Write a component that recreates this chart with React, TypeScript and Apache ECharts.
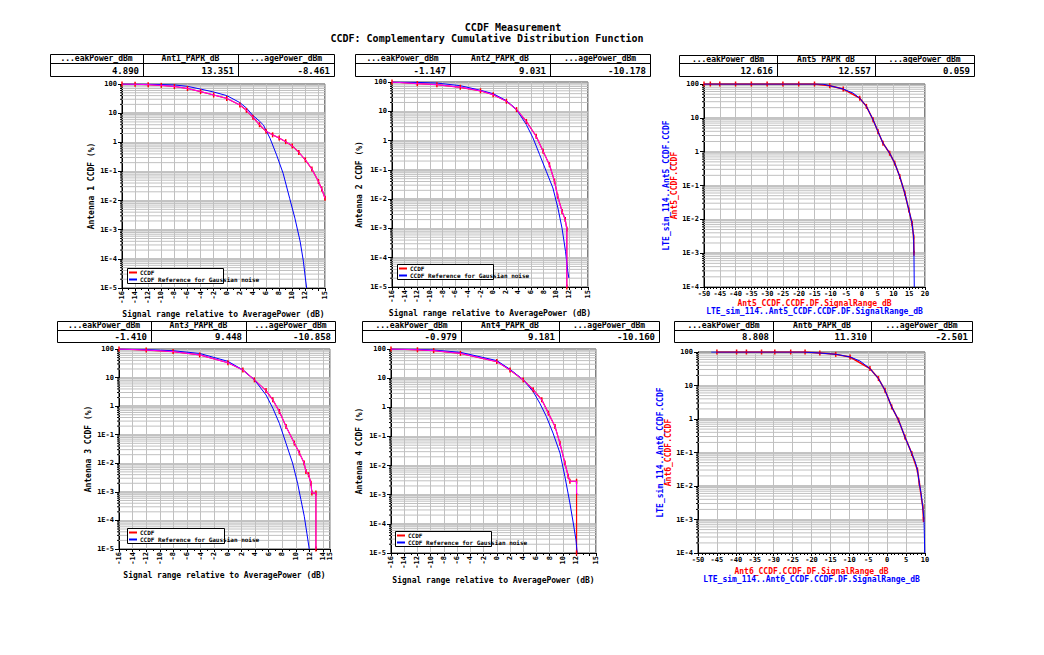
import React, { useEffect, useRef } from 'react';
import * as echarts from 'echarts';

type Pt = [number, number];

const MONO = '"DejaVu Sans Mono", monospace';
const RED = '#ff0000';
const MAGENTA = '#ff00ff';
const BLUE = '#0000ff';
const GRID_GRAY = '#c0c0c0';

const titleLines = ['CCDF Measurement', 'CCDF: Complementary Cumulative Distribution Function'];
const xNameAnt = 'Signal range relative to AveragePower (dB)';
const legendNames = ['CCDF', 'CCDF Reference for Gaussian noise'];

// ---- table texts ----
const headers1 = ['...eakPower_dBm', 'Ant1_PAPR_dB', '...agePower_dBm'];
const values1 = ['4.890', '13.351', '-8.461'];
const headers2 = ['...eakPower_dBm', 'Ant2_PAPR_dB', '...agePower_dBm'];
const values2 = ['-1.147', '9.031', '-10.178'];
const headers5 = ['...eakPower_dBm', 'Ant5_PAPR_dB', '...agePower_dBm'];
const values5 = ['12.616', '12.557', '0.059'];
const headers3 = ['...eakPower_dBm', 'Ant3_PAPR_dB', '...agePower_dBm'];
const values3 = ['-1.410', '9.448', '-10.858'];
const headers4 = ['...eakPower_dBm', 'Ant4_PAPR_dB', '...agePower_dBm'];
const values4 = ['-0.979', '9.181', '-10.160'];
const headers6 = ['...eakPower_dBm', 'Ant6_PAPR_dB', '...agePower_dBm'];
const values6 = ['8.808', '11.310', '-2.501'];

// ---- Antenna 1 ----
const ant1Ccdf: Pt[] = [[-16,100],[-14,98],[-12,95],[-10,90],[-8,82],[-6,70],[-4,55],[-2,42],[0,32],[2,19],[3,12.5],[4,7.2],[5,4.0],[6,2.4],[7,1.8],[8,1.4],[9,1.05],[10,0.75],[11,0.45],[12,0.25],[13,0.12],[14,0.045],[14.5,0.025],[15,0.012]];
const ant1Ref: Pt[] = [[-16,100],[-12,98],[-8,93],[-6,83],[-4,67],[-2,53],[0,40],[2,23],[3,15],[4,8.3],[5,5.3],[5.6,3.9],[6.6,1.38],[7.6,0.37],[8.6,0.087],[9.6,0.012],[10.4,0.0025],[11.2,0.0004],[11.7,0.000083],[12.0,0.000022],[12.2,0.00001]];

// ---- Antenna 2 ----
const ant2Ccdf: Pt[] = [[-16,100],[-12,88],[-8.9,81],[-5.2,66],[-2,50],[0,37],[2.1,22],[3.7,11.4],[5.25,4.5],[6.8,1.4],[7.9,0.43],[8.9,0.15],[9.7,0.041],[10.2,0.0126],[10.9,0.0038],[11.4,0.002],[11.65,0.00095],[11.65,0.00001]];
const ant2Ref: Pt[] = [[-16,100],[-12,97],[-8.9,92],[-5.2,75],[-2,52],[0,40],[2.1,23],[3.7,11.4],[5.25,3.5],[6.3,1.23],[7.35,0.33],[8.4,0.089],[9.45,0.024],[10.24,0.005],[10.9,0.001],[11.44,0.000166],[11.8,0.0000347],[11.97,0.0000204]];

// ---- Antenna 3 ----
const ant3Ccdf: Pt[] = [[-16,100],[-12,92],[-8.05,81],[-4.15,62],[0,33],[2.2,18.5],[3.9,8.3],[5.6,3.5],[6.6,1.66],[7.56,0.65],[8.54,0.193],[9.76,0.051],[10.5,0.023],[11.2,0.0102],[11.46,0.0052],[11.85,0.004],[12.2,0.002],[12.34,0.00091],[12.93,0.00091],[12.93,0.00001]];
const ant3Ref: Pt[] = [[-16,100],[-12,95],[-8.05,87],[-4.15,70],[0,37],[2.2,18.5],[3.9,8.3],[5.6,2.47],[6.6,0.85],[7.56,0.25],[8.54,0.05],[9.5,0.0102],[10.24,0.002],[10.73,0.00053],[11.22,0.00014],[11.6,0.000036],[11.95,0.00001]];

// ---- Antenna 4 ----
const ant4Ccdf: Pt[] = [[-16,100],[-12,94],[-9.55,88],[-5.5,71],[0,37],[2,19],[4,8.7],[5.5,4.0],[6.8,1.8],[7.8,0.63],[8.8,0.22],[9.55,0.058],[10.3,0.0122],[10.8,0.0043],[11.05,0.0029],[12.06,0.0029],[12.06,0.0011],[12.36,0.001]];
const ant4CcdfRed: Pt[] = [[-16,100],[-12,94],[-9.55,88],[-5.5,71],[0,37],[2,19],[4,8.7],[5.5,4.0],[6.8,1.8],[7.8,0.63],[8.8,0.22],[9.55,0.058],[10.3,0.0122],[10.8,0.0043],[11.05,0.0029],[12.06,0.0029],[12.06,0.00001]];
const ant4Ref: Pt[] = [[-16,100],[-12,97],[-9.55,92],[-5.5,77],[0,40],[2,20],[4,8.7],[5.5,3.45],[6.5,1.38],[7.5,0.48],[8.5,0.13],[9.55,0.0272],[10.3,0.0042],[11.05,0.00052],[11.56,0.000107],[11.96,0.000029],[12.16,0.00001]];

// ---- Ant5 (simulation vs measurement) ----
const ant5Sim: Pt[] = [[-50,100],[-14.4,100],[-12.3,99],[-10.15,89],[-5.9,71],[-2.8,54],[-0.67,38],[1.44,21.8],[3.55,8.8],[5.1,3.95],[6.7,1.78],[8.8,0.9],[10.4,0.46],[12.0,0.184],[13.6,0.059],[14.9,0.0188],[15.9,0.0076],[16.4,0.003],[16.5,0.001],[16.6,0.0001]];
const ant5Meas: Pt[] = [[-50,100],[-48,100],[-45,100],[-40,100],[-35,100],[-30,100],[-25,100],[-20,100],[-15,100],[-10.15,89],[-5.9,71],[-0.67,38],[1.44,21.8],[3.55,8.8],[5.1,3.95],[6.7,1.78],[8.8,0.9],[10.4,0.46],[12.0,0.184],[13.6,0.059],[14.9,0.0188],[15.9,0.0076],[16.4,0.003],[16.5,0.001]];

// ---- Ant6 (simulation vs measurement) ----
const ant6Sim: Pt[] = [[-46.5,100],[-22.2,100],[-17.8,93],[-13.4,85],[-9.8,71],[-7.2,54],[-4.55,32],[-2.3,16.1],[-0.57,7.2],[1.2,2.3],[3.0,0.93],[4.7,0.29],[6.5,0.094],[7.4,0.053],[8.0,0.03],[8.5,0.0121],[8.96,0.006],[9.4,0.0024],[9.75,0.00097],[9.93,0.0001]];
const ant6Meas: Pt[] = [[-45,100],[-39.8,100],[-37.2,100],[-33.2,100],[-29.7,100],[-25.5,100],[-21.7,100],[-17.8,93],[-13.6,85],[-9.8,71],[-4.55,32],[-2.3,16.1],[-0.57,7.2],[1.2,2.3],[3.0,0.93],[4.7,0.29],[6.5,0.094],[8.0,0.03],[8.5,0.0121],[9.4,0.0024],[9.6,0.001]];

interface Panel {
  kind: 'ant' | 'sim';
  grid: { left: number; top: number; width: number; height: number };
  xMin: number; xMax: number; xInterval: number;
  yMin: number; yMax: number;
  yName: string; xName: string; yGap: number; xGap: number;
  table: { x: number; y: number; cols: number[]; hh: number; h: number };
  headers: string[]; values: string[];
  red: Pt[]; magenta?: Pt[]; blue: Pt[];
  redName: string; blueName: string;
  legendBox?: { x: number; y: number; w: number; h: number };
}

const simYName = (a: string) => `{b|LTE_sim_114..${a}_CCDF.CCDF}\n{r|${a}_CCDF.CCDF}`;
const simXName = (a: string) => `{r|${a}_CCDF.CCDF.DF.SignalRange_dB}\n{b|LTE_sim_114..${a}_CCDF.CCDF.DF.SignalRange_dB}`;

const panels: Panel[] = [
  {
    kind: 'ant', grid: { left: 122, top: 84, width: 203, height: 204 },
    xMin: -16, xMax: 15, xInterval: 2, yMin: 1e-5, yMax: 100,
    yName: 'Antenna 1 CCDF (%)', xName: xNameAnt, yGap: 27, xGap: 22,
    table: { x: 50, y: 54, cols: [93, 95, 96], hh: 9, h: 22 },
    headers: headers1, values: values1,
    red: ant1Ccdf, magenta: ant1Ccdf, blue: ant1Ref,
    redName: legendNames[0], blueName: legendNames[1],
    legendBox: { x: 127, y: 268, w: 96, h: 15 },
  },
  {
    kind: 'ant', grid: { left: 392, top: 82, width: 196, height: 205 },
    xMin: -16, xMax: 15, xInterval: 2, yMin: 1e-5, yMax: 100,
    yName: 'Antenna 2 CCDF (%)', xName: xNameAnt, yGap: 29, xGap: 22,
    table: { x: 355, y: 54, cols: [95, 100, 100], hh: 9, h: 22 },
    headers: headers2, values: values2,
    red: ant2Ccdf, magenta: ant2Ccdf, blue: ant2Ref,
    redName: legendNames[0], blueName: legendNames[1],
    legendBox: { x: 397, y: 264, w: 96, h: 15 },
  },
  {
    kind: 'sim', grid: { left: 704, top: 84, width: 221, height: 203 },
    xMin: -50, xMax: 20, xInterval: 5, yMin: 1e-4, yMax: 100,
    yName: simYName('Ant5'), xName: simXName('Ant5'), yGap: 26, xGap: 12,
    table: { x: 679, y: 55, cols: [98, 98, 99], hh: 8, h: 21 },
    headers: headers5, values: values5,
    red: ant5Meas, blue: ant5Sim,
    redName: 'Ant5_CCDF.CCDF', blueName: 'LTE_sim_114..Ant5_CCDF.CCDF',
  },
  {
    kind: 'ant', grid: { left: 119, top: 349, width: 211, height: 200 },
    xMin: -16, xMax: 15, xInterval: 2, yMin: 1e-5, yMax: 100,
    yName: 'Antenna 3 CCDF (%)', xName: xNameAnt, yGap: 27, xGap: 22,
    table: { x: 57, y: 321, cols: [94, 95, 89], hh: 9, h: 21 },
    headers: headers3, values: values3,
    red: ant3Ccdf, magenta: ant3Ccdf, blue: ant3Ref,
    redName: legendNames[0], blueName: legendNames[1],
    legendBox: { x: 127, y: 528, w: 97, h: 15 },
  },
  {
    kind: 'ant', grid: { left: 391, top: 349, width: 205, height: 204 },
    xMin: -16, xMax: 15, xInterval: 2, yMin: 1e-5, yMax: 100,
    yName: 'Antenna 4 CCDF (%)', xName: xNameAnt, yGap: 28, xGap: 23,
    table: { x: 362, y: 321, cols: [99, 98, 100], hh: 9, h: 21 },
    headers: headers4, values: values4,
    red: ant4CcdfRed, magenta: ant4Ccdf, blue: ant4Ref,
    redName: legendNames[0], blueName: legendNames[1],
    legendBox: { x: 395, y: 531, w: 96, h: 15 },
  },
  {
    kind: 'sim', grid: { left: 698, top: 352, width: 227, height: 201 },
    xMin: -50, xMax: 10, xInterval: 5, yMin: 1e-4, yMax: 100,
    yName: simYName('Ant6'), xName: simXName('Ant6'), yGap: 22, xGap: 14,
    table: { x: 674, y: 321, cols: [99, 98, 101], hh: 9, h: 21 },
    headers: headers6, values: values6,
    red: ant6Meas, blue: ant6Sim,
    redName: 'Ant6_CCDF.CCDF', blueName: 'LTE_sim_114..Ant6_CCDF.CCDF',
  },
];

function minorValues(yMin: number, yMax: number): number[] {
  const out: number[] = [];
  const k0 = Math.round(Math.log10(yMin));
  const k1 = Math.round(Math.log10(yMax));
  for (let k = k0; k < k1; k++) {
    for (let m = 2; m <= 9; m++) out.push(m * Math.pow(10, k));
  }
  return out;
}

const logLabel = (v: number) => {
  if (v >= 1) return String(Math.round(v));
  return '1E' + Math.round(Math.log10(v));
};

function buildOption() {
  const grid: any[] = [];
  const xAxis: any[] = [];
  const yAxis: any[] = [];
  const series: any[] = [];
  const legend: any[] = [];
  const graphic: any[] = [];

  const nameRich = {
    b: { color: BLUE, fontSize: 8, fontFamily: MONO, fontWeight: 'bold', lineHeight: 8 },
    r: { color: RED, fontSize: 8, fontFamily: MONO, fontWeight: 'bold', lineHeight: 8 },
  };

  panels.forEach((p, i) => {
    grid.push({ ...p.grid, show: true, borderColor: '#000', borderWidth: 1, backgroundColor: 'transparent' });
    const isAnt = p.kind === 'ant';
    xAxis.push({
      type: 'value', gridIndex: i, min: p.xMin, max: p.xMax, interval: p.xInterval,
      axisLine: { onZero: false, lineStyle: { color: '#000', width: 1 } },
      axisTick: { length: 3, lineStyle: { color: '#000' } },
      minorTick: { show: true, splitNumber: isAnt ? 2 : 5, length: 2, lineStyle: { color: '#000' } },
      axisLabel: {
        fontSize: 7, fontFamily: MONO, fontWeight: 'bold', color: '#000', rotate: isAnt ? 90 : 0,
        margin: 3, showMaxLabel: true, showMinLabel: true,
      },
      splitLine: { show: true, lineStyle: { color: GRID_GRAY, width: 1 } },
      name: p.xName, nameLocation: 'middle', nameGap: p.xGap,
      nameTextStyle: isAnt
        ? { fontSize: 8, fontFamily: MONO, fontWeight: 'bold', color: '#000' }
        : { rich: nameRich, lineHeight: 8 },
    });
    yAxis.push({
      type: 'log', logBase: 10, gridIndex: i, min: p.yMin, max: p.yMax,
      axisLine: { onZero: false, lineStyle: { color: '#000', width: 1 } },
      axisTick: { length: 4, lineStyle: { color: '#000' } },
      axisLabel: { fontSize: 7, fontFamily: MONO, fontWeight: 'bold', color: '#000', margin: 5, formatter: logLabel },
      splitLine: { show: true, lineStyle: { color: '#b0b0b0', width: 1.5 } },
      name: p.yName, nameLocation: 'middle', nameGap: p.yGap, nameRotate: 90,
      nameTextStyle: isAnt
        ? { fontSize: 8, fontFamily: MONO, fontWeight: 'bold', color: '#000' }
        : { rich: nameRich, lineHeight: 8 },
    });

    // log minor grid lines drawn through the axes' scales
    const xMin = p.xMin, xMax = p.xMax;
    series.push({
      type: 'custom', xAxisIndex: i, yAxisIndex: i, z: 1, silent: true,
      data: minorValues(p.yMin, p.yMax).map((v) => [xMin, v]),
      renderItem: (_params: any, api: any) => {
        const v = api.value(1);
        const a = api.coord([xMin, v]);
        const b = api.coord([xMax, v]);
        return {
          type: 'group',
          children: [
            { type: 'line', shape: { x1: a[0], y1: a[1], x2: b[0], y2: b[1] }, style: { stroke: GRID_GRAY, lineWidth: 1 } },
            { type: 'line', shape: { x1: a[0] - 2, y1: a[1], x2: a[0], y2: a[1] }, style: { stroke: '#000', lineWidth: 1 } },
          ],
        };
      },
    });

    const common = { type: 'line', xAxisIndex: i, yAxisIndex: i, silent: true, emphasis: { disabled: true }, clip: true };
    series.push({
      ...common, name: p.redName, data: p.red, z: 3,
      showSymbol: true, symbol: 'rect', symbolSize: [1.5, 5],
      itemStyle: { color: RED }, lineStyle: { color: RED, width: isAnt ? 1.2 : 1.5 },
    });
    if (p.magenta) {
      series.push({
        ...common, name: 'CCDF trace ' + (i + 1), data: p.magenta, z: 4, showSymbol: false,
        itemStyle: { color: MAGENTA }, lineStyle: { color: MAGENTA, width: 1 },
      });
    }
    series.push({
      ...common, name: p.blueName, data: p.blue, z: isAnt ? 3 : 5, showSymbol: false,
      itemStyle: { color: BLUE }, lineStyle: { color: BLUE, width: 1 },
    });

    if (p.legendBox) {
      const lb = p.legendBox;
      graphic.push({
        type: 'rect', z: 10,
        shape: { x: lb.x + 0.5, y: lb.y + 0.5, width: lb.w, height: lb.h },
        style: { fill: '#fff', stroke: '#000', lineWidth: 1 },
      });
      legend.push({
        left: lb.x + 2, top: lb.y + 1, orient: 'vertical', itemGap: 0, padding: 0,
        itemWidth: 8, itemHeight: 2, selectedMode: false, z: 20,
        textStyle: { fontSize: 6, fontFamily: MONO, fontWeight: 'bold', color: '#000', lineHeight: 7, padding: [0, 0, 0, -2] },
        data: [
          { name: legendNames[0], icon: 'rect', itemStyle: { color: RED } },
          { name: legendNames[1], icon: 'rect', itemStyle: { color: BLUE } },
        ],
      });
    }

    // table
    const t = p.table;
    const w = t.cols.reduce((s, c) => s + c, 0);
    const children: any[] = [
      { type: 'rect', shape: { x: t.x + 0.5, y: t.y + 0.5, width: w, height: t.h }, style: { fill: '#fff', stroke: '#000', lineWidth: 1 } },
      { type: 'line', shape: { x1: t.x, y1: t.y + t.hh + 0.5, x2: t.x + w, y2: t.y + t.hh + 0.5 }, style: { stroke: '#000', lineWidth: 1 } },
    ];
    let cx = t.x;
    t.cols.forEach((c, j) => {
      if (j > 0) {
        children.push({ type: 'line', shape: { x1: cx + 0.5, y1: t.y, x2: cx + 0.5, y2: t.y + t.h }, style: { stroke: '#000', lineWidth: 1 } });
      }
      children.push({
        type: 'text', x: cx + c / 2, y: t.y + t.hh / 2,
        style: { text: p.headers[j], textAlign: 'center', textVerticalAlign: 'middle', font: `bold 8px ${MONO}`, fill: '#000' },
      });
      children.push({
        type: 'text', x: cx + c - 4, y: t.y + t.hh + (t.h - t.hh) / 2 + 1,
        style: { text: p.values[j], textAlign: 'right', textVerticalAlign: 'middle', font: `bold 9px ${MONO}`, fill: '#000' },
      });
      cx += c;
    });
    graphic.push({ type: 'group', z: 10, children });
  });

  return {
    animation: false,
    backgroundColor: '#fff',
    textStyle: { fontFamily: MONO },
    title: [
      { text: titleLines[0], left: 513, top: 22, textAlign: 'center', padding: 0, textStyle: { fontFamily: MONO, fontSize: 10, lineHeight: 10, fontWeight: 'bold', color: '#000' } },
      { text: titleLines[1], left: 487, top: 33, textAlign: 'center', padding: 0, textStyle: { fontFamily: MONO, fontSize: 10, lineHeight: 10, fontWeight: 'bold', color: '#000' } },
    ],
    grid, xAxis, yAxis, series, legend, graphic,
  };
}

export default function App() {
  const ref = useRef<HTMLDivElement>(null);
  useEffect(() => {
    if (!ref.current) return;
    const chart = echarts.init(ref.current, undefined, { renderer: 'svg' });
    chart.setOption(buildOption() as any);
    return () => chart.dispose();
  }, []);
  return <div ref={ref} style={{ position: 'absolute', left: 0, top: 0, width: 1044, height: 655, background: '#fff' }} />;
}
